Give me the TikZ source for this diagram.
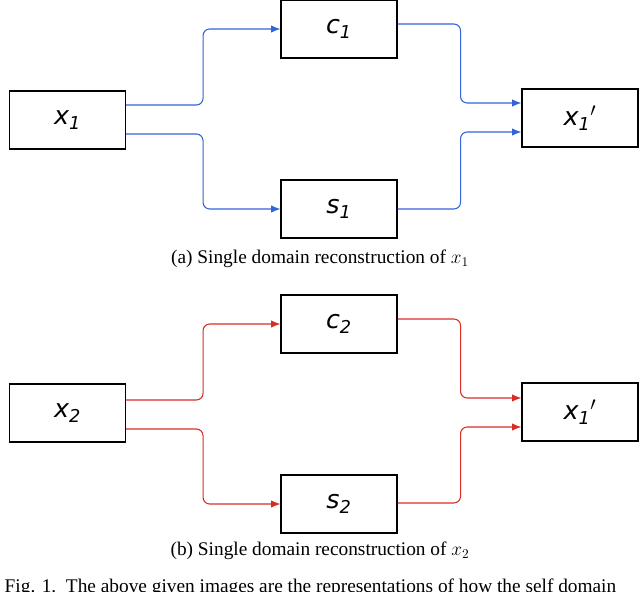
\documentclass[tikz,border=0pt]{standalone}
\usepackage{fontspec}
\setmainfont{Liberation Serif}
\newfontfamily\lab{DejaVu Sans}
\usetikzlibrary{arrows.meta}
\newcommand{\lbl}[2]{{\lab\itshape #1\textsubscript{#2}}}
\begin{document}
\begin{tikzpicture}[x=0.75pt,y=-0.75pt,
  box/.style={draw,thick,minimum width=87pt,minimum height=43.5pt,inner sep=0pt,font=\fontsize{19}{22}\selectfont},
  conn/.style={line width=0.8pt,rounded corners=5pt,-{Latex[length=7pt,width=5.5pt]}},
  captxt/.style={font=\fontsize{14.5}{17}\selectfont}]
\useasboundingbox (0,0) rectangle (640,592);
\definecolor{bl}{RGB}{50,100,215}
\definecolor{rd}{RGB}{215,45,35}
% top
\node[box] (x1) at (67.5,120) {\lbl{x}{1}};
\node[box] (c1) at (339,29) {\lbl{c}{1}};
\node[box] (s1) at (339,209) {\lbl{s}{1}};
\node[box] (o1) at (580,118) {\lbl{x}{1}$'$};
\draw[conn,bl] ([shift={(0,-15)}]x1.east) -- ++(77,0) |- (c1.west);
\draw[conn,bl] ([shift={(0,14)}]x1.east) -- ++(77,0) |- (s1.west);
\draw[conn,bl] ([shift={(0,-5)}]c1.east) -- ++(63,0) |- ([shift={(0,-15)}]o1.west);
\draw[conn,bl] (s1.east) -- ++(63,0) |- ([shift={(0,14)}]o1.west);
\node[captxt] (ca) at (320,259) {(a) Single domain reconstruction of $x_1$};
% bottom
\node[box] (x2) at (67.5,413) {\lbl{x}{2}};
\node[box] (c2) at (339,324) {\lbl{c}{2}};
\node[box] (s2) at (339,504) {\lbl{s}{2}};
\node[box] (o2) at (580,412) {\lbl{x}{1}$'$};
\draw[conn,rd] ([shift={(0,-13)}]x2.east) -- ++(77,0) |- (c2.west);
\draw[conn,rd] ([shift={(0,16)}]x2.east) -- ++(77,0) |- (s2.west);
\draw[conn,rd] ([shift={(0,-5)}]c2.east) -- ++(63,0) |- ([shift={(0,-14)}]o2.west);
\draw[conn,rd] ([shift={(0,-1)}]s2.east) -- ++(63,0) |- ([shift={(0,15)}]o2.west);
\node[captxt] (cb) at (320,551) {(b) Single domain reconstruction of $x_2$};
\node[captxt,anchor=west] (fig) at (0,588) {Fig. 1.\ \ The above given images are the representations of how the self domain};
\end{tikzpicture}
\end{document}
